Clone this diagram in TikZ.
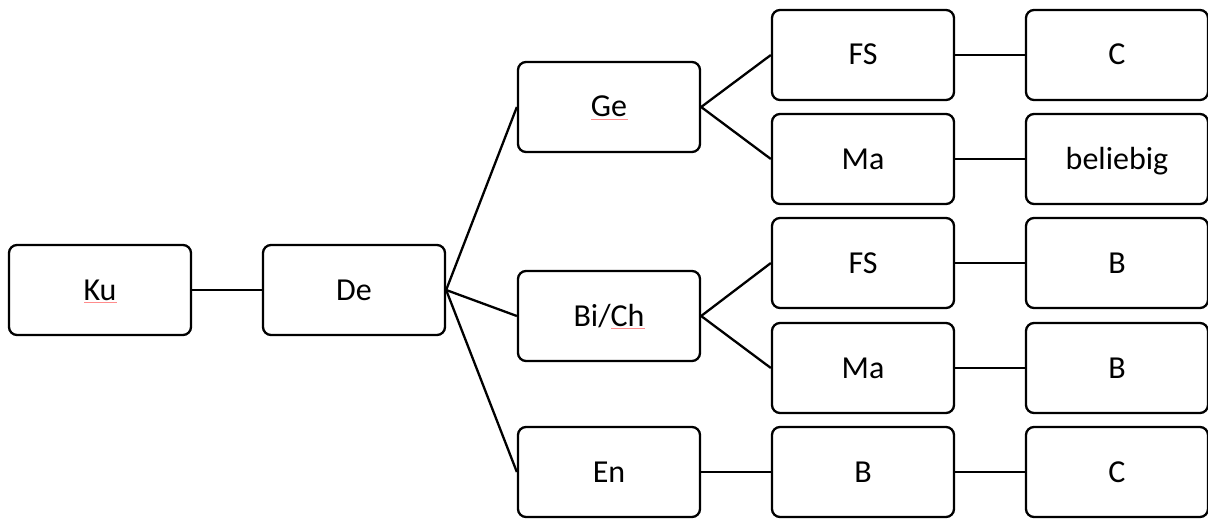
\documentclass[tikz,border=0pt]{standalone}
\usepackage{fontspec}
\setmainfont{Carlito}
\begin{document}
\begin{tikzpicture}[x=1pt,y=-1pt,
  box/.style={draw=black,line width=2.3pt,rounded corners=8pt,minimum width=182pt,minimum height=90pt,inner sep=0pt,text height=20pt,text depth=0pt,font=\fontsize{32}{38}\selectfont,anchor=center},
  link/.style={draw=black,line width=2.3pt},
  spell/.style={draw=red!45,line width=0.8pt}]
\useasboundingbox (0,0) rectangle (1208,519);
\node[box] (ku) at (100,290) {Ku};
\node[box] (de) at (354,290) {De};
\node[box] (ge) at (609,107) {Ge};
\node[box] (bich) at (609,316) {Bi/Ch};
\node[box] (en) at (609,472) {En};
\node[box] (fs1) at (863,55) {FS};
\node[box] (ma1) at (863,159) {Ma};
\node[box] (fs2) at (863,263) {FS};
\node[box] (ma2) at (863,368) {Ma};
\node[box] (b1) at (863,472) {B};
\node[box] (c1) at (1117,55) {C};
\node[box] (bel) at (1117,159) {beliebig};
\node[box] (b2) at (1117,263) {B};
\node[box] (b3) at (1117,368) {B};
\node[box] (c2) at (1117,472) {C};
\draw[link] (ku.east) -- (de.west);
\draw[link] (de.east) -- (ge.west);
\draw[link] (de.east) -- (bich.west);
\draw[link] (de.east) -- (en.west);
\draw[link] (ge.east) -- (fs1.west);
\draw[link] (ge.east) -- (ma1.west);
\draw[link] (bich.east) -- (fs2.west);
\draw[link] (bich.east) -- (ma2.west);
\draw[link] (en.east) -- (b1.west);
\draw[link] (fs1.east) -- (c1.west);
\draw[link] (ma1.east) -- (bel.west);
\draw[link] (fs2.east) -- (b2.west);
\draw[link] (ma2.east) -- (b3.west);
\draw[link] (b1.east) -- (c2.west);
\coordinate (u1a) at (84,302.5); \coordinate (u1b) at (117,302.5);
\draw[spell] (u1a) -- (u1b);
\coordinate (u2a) at (591,119.5); \coordinate (u2b) at (628,119.5);
\draw[spell] (u2a) -- (u2b);
\coordinate (u3a) at (611,328.5); \coordinate (u3b) at (645,328.5);
\draw[spell] (u3a) -- (u3b);
\end{tikzpicture}
\end{document}
